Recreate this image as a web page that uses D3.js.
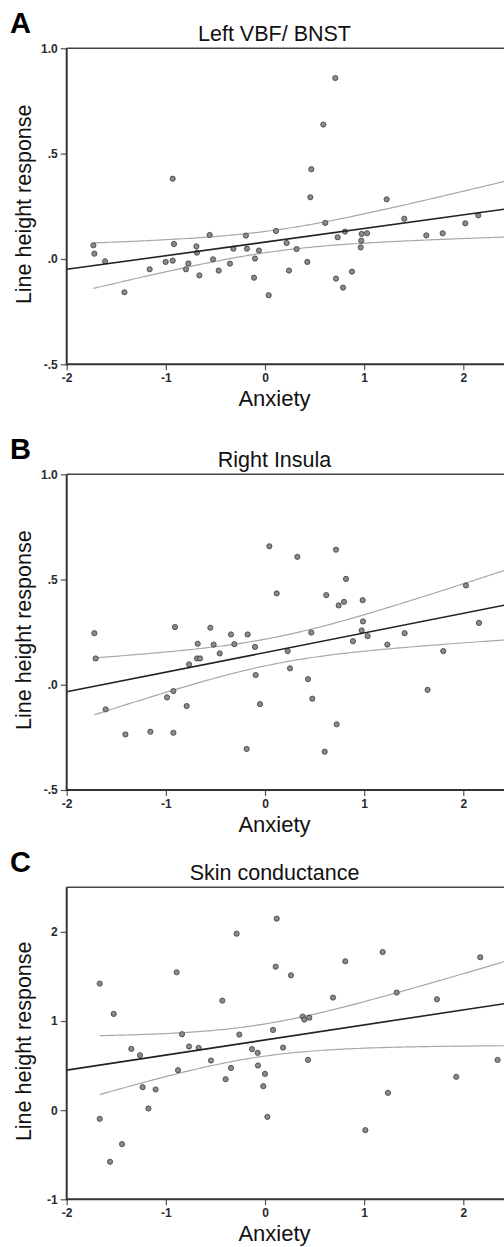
<!DOCTYPE html>
<html>
<head>
<meta charset="utf-8">
<script src="https://cdn.jsdelivr.net/npm/d3@7"></script>
<style>
  html, body { margin: 0; padding: 0; background: #fff; }
  svg { display: block; }
</style>
</head>
<body>
<svg id="chart" width="504" height="1247"></svg>
<script>
// ---------------- data ----------------
const panelLetters = ["A", "B", "C"];
const panelTitles = ["Left VBF/ BNST", "Right Insula", "Skin conductance"];
const xAxisTitle = "Anxiety";
const yAxisTitle = "Line height response";

const xTicks = [-2, -1, 0, 1, 2];
const xTickLabels = ["-2", "-1", "0", "1", "2"];

const yDomainAB = [-0.5, 1.0];
const yTicksAB = [-0.5, 0, 0.5, 1.0];
const yTickLabelsAB = ["-.5", ".0", ".5", "1.0"];
const yDomainC = [-1, 2.5];
const yTicksC = [-1, 0, 1, 2];
const yTickLabelsC = ["-1", "0", "1", "2"];

// fitted regression lines: [intercept, slope]
const fitA = [0.080, 0.0646];
const fitB = [0.153, 0.0932];
const fitC = [0.787, 0.169];

const anxietyA = [-1.731,-1.721,-1.613,-1.418,-1.163,-1.002,-0.931,-0.931,-0.918,-0.797,
  -0.773,-0.692,-0.686,-0.662,-0.558,-0.524,-0.467,-0.353,-0.319,-0.192,
  -0.182,-0.111,-0.101,-0.061,0.037,0.111,0.218,0.242,0.319,0.427,
  0.457,0.467,0.588,0.608,0.709,0.716,0.733,0.787,0.807,0.877,
  0.965,0.971,0.975,1.029,1.227,1.405,1.627,1.792,2.020,2.151];
const responseA = [0.065,0.025,-0.011,-0.158,-0.049,-0.014,0.381,-0.008,0.071,-0.049,
  -0.021,0.060,0.030,-0.078,0.114,-0.002,-0.055,-0.022,0.049,0.111,
  0.049,-0.089,0.002,0.040,-0.172,0.133,0.076,-0.055,0.047,-0.014,
  0.293,0.426,0.638,0.171,0.859,-0.093,0.103,-0.136,0.130,-0.060,
  0.055,0.087,0.119,0.122,0.283,0.191,0.112,0.122,0.169,0.207];

const anxietyB = [-1.721,-1.708,-1.607,-1.408,-1.156,-0.988,-0.924,-0.924,-0.908,-0.790,
  -0.766,-0.679,-0.686,-0.655,-0.551,-0.518,-0.457,-0.343,-0.309,-0.185,
  -0.175,-0.101,-0.094,-0.050,0.044,0.118,0.229,0.252,0.326,0.434,
  0.467,0.477,0.602,0.618,0.716,0.723,0.743,0.797,0.817,0.887,
  0.975,0.985,0.988,1.035,1.234,1.408,1.640,1.798,2.027,2.158];
const responseB = [0.245,0.125,-0.117,-0.236,-0.223,-0.060,-0.030,-0.228,0.274,-0.101,
  0.097,0.195,0.125,0.125,0.271,0.191,0.149,0.239,0.193,-0.305,
  0.239,0.180,0.046,-0.092,0.658,0.434,0.160,0.078,0.608,0.027,
  0.248,-0.066,-0.318,0.426,0.642,-0.188,0.377,0.394,0.503,0.207,
  0.258,0.402,0.301,0.231,0.191,0.245,-0.024,0.160,0.472,0.294];

const anxietyC = [-1.667,-1.667,-1.563,-1.526,-1.442,-1.348,-1.261,-1.234,-1.176,-1.103,
  -0.891,-0.877,-0.837,-0.766,-0.669,-0.545,-0.430,-0.397,-0.343,-0.286,
  -0.259,-0.131,-0.074,-0.071,-0.017,0.000,0.024,0.081,0.108,0.118,
  0.182,0.262,0.380,0.397,0.434,0.447,0.686,0.810,1.012,1.187,
  1.240,1.328,1.734,1.929,2.171,2.346];
const responseC = [1.420,-0.097,-0.579,1.080,-0.381,0.687,0.616,0.258,0.019,0.232,
  1.547,0.448,0.852,0.714,0.699,0.557,1.229,0.347,0.474,1.980,
  0.848,0.684,0.643,0.501,0.269,0.407,-0.075,0.900,1.610,2.148,
  0.702,1.513,1.050,1.016,0.564,1.038,1.263,1.670,-0.224,1.774,
  0.194,1.319,1.244,0.374,1.715,0.564];

// ---------------- layout ----------------
const plotLeft = 66.7;
const xAtTwo = 463.3;       // pixel of x = 2
const plotRight = 504;
const plotTops = [48.3, 474.3, 887.3];
const plotBottoms = [364.3, 790, 1199.3];
const tCrit = 2.01;

const panels = [
  { xs: anxietyA, ys: responseA, fit: fitA, yDomain: yDomainAB, yTicks: yTicksAB, yLabels: yTickLabelsAB },
  { xs: anxietyB, ys: responseB, fit: fitB, yDomain: yDomainAB, yTicks: yTicksAB, yLabels: yTickLabelsAB },
  { xs: anxietyC, ys: responseC, fit: fitC, yDomain: yDomainC, yTicks: yTicksC, yLabels: yTickLabelsC }
];

const svg = d3.select("#chart");
const FONT = "Liberation Sans, Arial, Helvetica, sans-serif";

panels.forEach((p, i) => {
  const top = plotTops[i], bottom = plotBottoms[i];
  const x = d3.scaleLinear().domain([-2, 2]).range([plotLeft, xAtTwo]);
  const y = d3.scaleLinear().domain(p.yDomain).range([bottom, top]);
  const xMaxVisible = x.invert(plotRight + 2);

  const g = svg.append("g");

  const clipId = "clip" + i;
  svg.append("clipPath").attr("id", clipId)
    .append("rect").attr("x", plotLeft).attr("y", top)
    .attr("width", plotRight - plotLeft).attr("height", bottom - top);

  // regression line and mean-confidence band
  const [a, b] = p.fit;
  const n = p.xs.length;
  const mx = d3.mean(p.xs);
  let sxx = 0, sse = 0;
  for (let k = 0; k < n; k++) {
    sxx += (p.xs[k] - mx) ** 2;
    sse += (p.ys[k] - (a + b * p.xs[k])) ** 2;
  }
  const s = Math.sqrt(sse / (n - 2));
  const xmin = d3.min(p.xs);
  const gridX = d3.range(0, 121).map(k => xmin + (xMaxVisible - xmin) * k / 120);
  const half = xv => tCrit * s * Math.sqrt(1 / n + (xv - mx) ** 2 / sxx);

  const plotG = g.append("g").attr("clip-path", `url(#${clipId})`);
  const lineGen = d3.line().x(d => x(d[0])).y(d => y(d[1]));

  plotG.append("path")
    .attr("d", lineGen(gridX.map(xv => [xv, a + b * xv + half(xv)])))
    .attr("fill", "none").attr("stroke", "#a8a8a8").attr("stroke-width", 1.2);
  plotG.append("path")
    .attr("d", lineGen(gridX.map(xv => [xv, a + b * xv - half(xv)])))
    .attr("fill", "none").attr("stroke", "#a8a8a8").attr("stroke-width", 1.2);

  plotG.selectAll("circle").data(p.xs.map((xv, k) => [xv, p.ys[k]]))
    .enter().append("circle")
    .attr("cx", d => x(d[0])).attr("cy", d => y(d[1])).attr("r", 2.6)
    .attr("fill", "#8a8a8a").attr("stroke", "#4a4a4a").attr("stroke-width", 0.9);

  plotG.append("path")
    .attr("d", lineGen([[-2, a + b * (-2)], [xMaxVisible, a + b * xMaxVisible]]))
    .attr("fill", "none").attr("stroke", "#222").attr("stroke-width", 1.6);

  // axes
  const yAxis = d3.axisLeft(y).tickValues(p.yTicks)
    .tickFormat((d, k) => p.yLabels[k]).tickSize(6).tickSizeOuter(0).tickPadding(3);
  const ya = g.append("g").attr("transform", `translate(${plotLeft},0)`).call(yAxis);
  const xAxis = d3.axisBottom(x).tickValues(xTicks)
    .tickFormat((d, k) => xTickLabels[k]).tickSize(6).tickSizeOuter(0).tickPadding(3);
  const xa = g.append("g").attr("transform", `translate(0,${bottom})`).call(xAxis);
  [ya, xa].forEach(ax => {
    ax.select(".domain").remove();
    ax.selectAll(".tick line").attr("stroke", "#555").attr("stroke-width", 1.2);
    ax.selectAll(".tick text").attr("fill", "#2a2a33")
      .style("font-family", FONT).style("font-size", "12px").style("font-weight", "bold");
  });

  // frame
  g.append("line").attr("x1", plotLeft).attr("x2", plotRight).attr("y1", top).attr("y2", top)
    .attr("stroke", "#444").attr("stroke-width", 1.6);
  g.append("line").attr("x1", plotLeft).attr("x2", plotRight).attr("y1", bottom).attr("y2", bottom)
    .attr("stroke", "#333").attr("stroke-width", 2);
  g.append("line").attr("x1", plotLeft).attr("x2", plotLeft).attr("y1", top).attr("y2", bottom + 1)
    .attr("stroke", "#333").attr("stroke-width", 2);

  // texts
  g.append("text").text(panelLetters[i])
    .attr("x", 10).attr("y", top - 15.5)
    .style("font-family", FONT).style("font-size", "29px").style("font-weight", "bold").attr("fill", "#000");
  g.append("text").text(panelTitles[i])
    .attr("x", 274.5).attr("y", top - 7.6).attr("text-anchor", "middle")
    .style("font-family", FONT).style("font-size", "21.5px").attr("fill", "#111");
  g.append("text").text(xAxisTitle)
    .attr("x", 274.5).attr("y", bottom + 41.5).attr("text-anchor", "middle")
    .style("font-family", FONT).style("font-size", "22px").attr("fill", "#111");
  g.append("text").text(yAxisTitle)
    .attr("transform", `translate(31,${(top + bottom) / 2 - 2}) rotate(-90)`)
    .attr("text-anchor", "middle")
    .style("font-family", FONT).style("font-size", "21.5px").attr("fill", "#111");
});
</script>
</body>
</html>
